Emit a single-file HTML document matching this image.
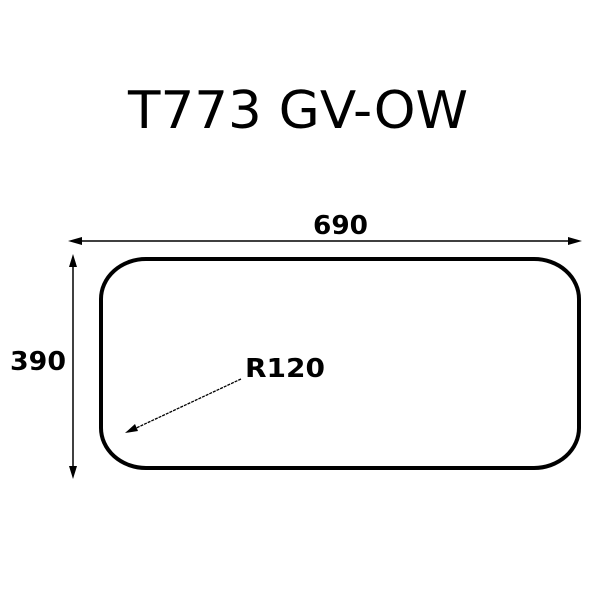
<!DOCTYPE html>
<html><head><style>
html,body{margin:0;padding:0;background:#fff;}
</style></head><body>
<svg width="600" height="598" viewBox="0 0 600 598" xmlns="http://www.w3.org/2000/svg">
<rect width="600" height="598" fill="#fff"/>
<text x="298" y="128" text-anchor="middle" font-family="'DejaVu Sans', 'Liberation Sans', sans-serif" font-size="52" textLength="340" lengthAdjust="spacingAndGlyphs" fill="#000">T773 GV-OW</text>
<rect x="101" y="259" width="478" height="209" rx="45" ry="40" fill="none" stroke="#000" stroke-width="4"/>
<line x1="74" y1="241" x2="574" y2="241" stroke="#000" stroke-width="1.5"/>
<polygon points="68,241 82,237 82,245" fill="#000"/>
<polygon points="582,241 568,237 568,245" fill="#000"/>
<line x1="73" y1="260" x2="73" y2="473" stroke="#000" stroke-width="1.5"/>
<polygon points="73,254 69,267 77,267" fill="#000"/>
<polygon points="73,479 69,466 77,466" fill="#000"/>
<text x="313" y="234" font-family="'DejaVu Sans', 'Liberation Sans', sans-serif" font-weight="bold" font-size="26" textLength="55" lengthAdjust="spacingAndGlyphs" fill="#000">690</text>
<text x="10" y="370" font-family="'DejaVu Sans', 'Liberation Sans', sans-serif" font-weight="bold" font-size="26" textLength="56" lengthAdjust="spacingAndGlyphs" fill="#000">390</text>
<text x="245" y="377" font-family="'DejaVu Sans', 'Liberation Sans', sans-serif" font-weight="bold" font-size="26" textLength="80" lengthAdjust="spacingAndGlyphs" fill="#000">R120</text>
<line x1="241" y1="379" x2="132" y2="430" stroke="#000" stroke-width="1.3" stroke-dasharray="3,1"/>
<polygon points="125,433 135,424 138,431" fill="#000"/>
</svg>
</body></html>
